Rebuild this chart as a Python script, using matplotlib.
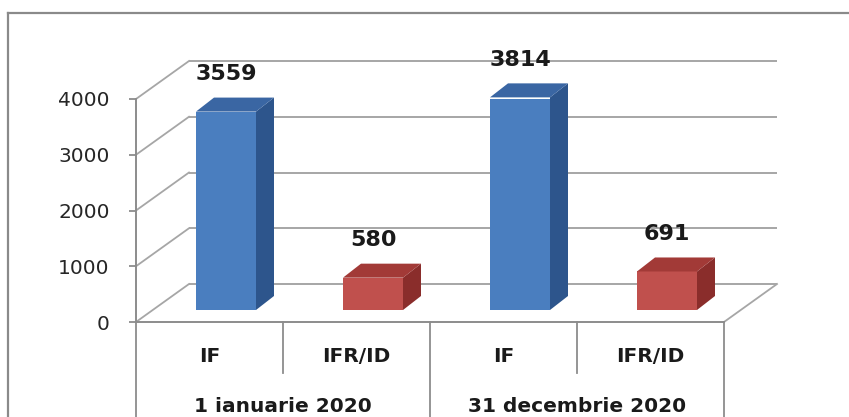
import matplotlib
matplotlib.use("Agg")
import matplotlib.pyplot as plt
from matplotlib.patches import Polygon
from matplotlib.lines import Line2D
import numpy as np

# ---- data ----
groups = ["1 ianuarie 2020", "31 decembrie 2020"]
subcats = ["IF", "IFR/ID", "IF", "IFR/ID"]
values = [3559, 580, 3814, 691]
yticks = [0, 1000, 2000, 3000, 4000]

# ---- styles ----
front_cols = ["#4a7ebf", "#c0504d", "#4a7ebf", "#c0504d"]
side_cols = ["#2d558c", "#8a2d2b", "#2d558c", "#8a2d2b"]
top_cols = ["#3a66a3", "#a23a37", "#3a66a3", "#a23a37"]
grid_col = "#a6a6a6"
axis_col = "#8c8c8c"

W, H = 849, 417
fig = plt.figure(figsize=(W / 100, H / 100), dpi=100)
fig.patch.set_facecolor("white")

# front plane of the plot: x 136..724 px, y 322 (0) .. 99 (4000)
x0, x1 = 136, 724
y0, y4 = 322, 99
ax = fig.add_axes([x0 / W, (H - y0) / H, (x1 - x0) / W, (y0 - y4) / H])
ax.set_xlim(0, 4)
ax.set_ylim(0, 4000)
ax.patch.set_alpha(0)

pxx = 4 / (x1 - x0)          # data units per px in x
pxy = 4000 / (y0 - y4)       # data units per px in y

# depth offsets
bdx, bdy = 53 * pxx, 38 * pxy     # back wall
ox, oy = 16.5 * pxx, 12 * pxy     # bar front plane
sdx, sdy = 18 * pxx, 14 * pxy     # bar depth
bw = 60 * pxx                     # bar width

n = len(values)
# back wall gridlines and left wall diagonals
for t in yticks:
    ax.plot([bdx, n + bdx], [t + bdy, t + bdy], color=grid_col, lw=1.4,
            clip_on=False, zorder=1, solid_capstyle="butt")
    ax.plot([0, bdx], [t, t + bdy], color=grid_col, lw=1.3, clip_on=False, zorder=1)
# floor right edge
ax.plot([n, n + bdx], [0, bdy], color=grid_col, lw=1.3, clip_on=False, zorder=1)

# bars
cats = np.arange(n) + 0.5
ax.bar(cats + ox, values, width=bw, bottom=oy, color=front_cols, zorder=3,
       linewidth=0)
for c, v, sc, tc in zip(cats, values, side_cols, top_cols):
    xl = c + ox - bw / 2
    xr = c + ox + bw / 2
    side = Polygon([(xr, oy), (xr + sdx, oy + sdy), (xr + sdx, oy + v + sdy), (xr, oy + v)],
                   closed=True, facecolor=sc, edgecolor="none", zorder=3, clip_on=False)
    top = Polygon([(xl, oy + v), (xl + sdx, oy + v + sdy), (xr + sdx, oy + v + sdy), (xr, oy + v)],
                  closed=True, facecolor=tc, edgecolor="none", zorder=3, clip_on=False)
    ax.add_patch(side)
    ax.add_patch(top)
    ax.text(c + ox, oy + v + sdy + 420, f"{v}", ha="center", va="center",
            fontsize=16, fontweight="bold", color="#1a1a1a", zorder=5, clip_on=False)

# axes / table
for s in ["top", "right", "bottom"]:
    ax.spines[s].set_visible(False)
ax.spines["left"].set_color(axis_col)
ax.spines["left"].set_linewidth(1.4)
ax.set_yticks(yticks)
ax.set_yticklabels([str(t) for t in yticks])
ax.tick_params(axis="y", length=5, width=1.3, color=axis_col, pad=14,
               labelsize=14.5, labelcolor="#262626")
ax.set_xticks([])

bottom_long = -1900
bottom_short = -920
ax.plot([0, n], [0, 0], color=axis_col, lw=1.4, clip_on=False, zorder=2)
for xb in [0, 2, 4]:
    ax.plot([xb, xb], [0, bottom_long], color=axis_col, lw=1.3, clip_on=False, zorder=2)
for xb in [1, 3]:
    ax.plot([xb, xb], [0, bottom_short], color=axis_col, lw=1.3, clip_on=False, zorder=2)

for c, lab in zip(cats, subcats):
    ax.text(c, -610, lab, ha="center", va="center", fontsize=14.5,
            fontweight="bold", color="#1a1a1a", clip_on=False)
for g, lab in enumerate(groups):
    ax.text(2 * g + 1, -1510, lab, ha="center", va="center", fontsize=14.5,
            fontweight="bold", color="#1a1a1a", clip_on=False)

# outer chart frame (cropped)
fx = 8 / W
fy = 1 - 12.5 / H
fig.add_artist(Line2D([fx, fx], [-0.05, fy], transform=fig.transFigure,
                      color="#8a8a8a", lw=1.6))
fig.add_artist(Line2D([fx, 1.05], [fy, fy], transform=fig.transFigure,
                      color="#8a8a8a", lw=1.6))

fig.savefig("out.png", dpi=100, facecolor="white")
